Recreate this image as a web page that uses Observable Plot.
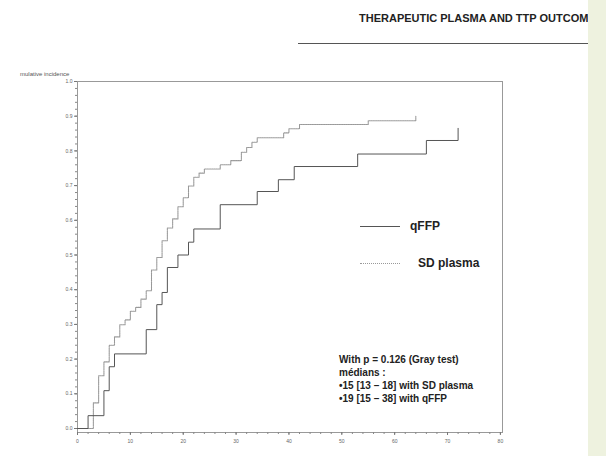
<!DOCTYPE html>
<html><head><meta charset="utf-8">
<script src="https://cdn.jsdelivr.net/npm/d3@7"></script>
<script src="https://cdn.jsdelivr.net/npm/@observablehq/plot@0.6"></script>
<style>
html,body{margin:0;padding:0;background:#fff;}
#wrap{position:relative;width:606px;height:456px;overflow:hidden;font-family:"Liberation Sans",Arial,sans-serif;background:#fff;}
#chart{position:absolute;left:0;top:0;}
.abs{position:absolute;white-space:nowrap;}
#header{left:359px;top:12px;font-size:11px;font-weight:bold;color:#222;}
#hline{left:298px;top:42.5px;width:292px;height:0;border-top:1.5px solid #555;}
#ylab{left:20px;top:71px;font-size:6px;color:#555;}
.leg{font-size:12px;font-weight:bold;color:#222;}
.legline{width:40px;height:0;}
#ann{left:339px;top:353px;font-size:10px;font-weight:bold;color:#222;line-height:13px;}
#strip{left:588px;top:0;width:18px;height:456px;background:#eef2df;}
</style></head><body>
<div id="wrap">
  <div id="chart"></div>
  <div id="header" class="abs"></div>
  <div id="hline" class="abs"></div>
  <div id="ylab" class="abs"></div>
  <div id="leg1line" class="abs legline" style="left:360px;top:225.5px;border-top:1px solid #555;"></div>
  <div id="leg1" class="abs leg" style="left:410px;top:219px;"></div>
  <div id="leg2line" class="abs legline" style="left:360px;top:262.5px;border-top:1px dotted #999;"></div>
  <div id="leg2" class="abs leg" style="left:418px;top:256px;"></div>
  <div id="ann" class="abs"></div>
  <div id="strip" class="abs"></div>
</div>
<script>
// ---- data ----
const seriesNames = ["qFFP", "SD plasma"];
const qffpTime = [0, 2, 5, 6, 7, 13, 15, 16, 17, 19, 21, 22, 27, 34, 38, 41, 53, 66, 72];
const qffpInc  = [0, 0.037, 0.109, 0.178, 0.215, 0.285, 0.357, 0.392, 0.464, 0.50, 0.537, 0.575, 0.645, 0.683, 0.717, 0.755, 0.791, 0.83, 0.865];
const sdTime = [0, 3, 4, 5, 6, 7, 8, 9, 10, 11, 12, 13, 14, 15, 16, 17, 18, 19, 20, 21, 22, 23, 24, 27, 29, 31, 32, 33, 34, 39, 40, 42, 55, 64];
const sdInc  = [0, 0.074, 0.152, 0.192, 0.24, 0.264, 0.299, 0.313, 0.338, 0.349, 0.373, 0.397, 0.457, 0.493, 0.541, 0.578, 0.604, 0.639, 0.665, 0.699, 0.724, 0.736, 0.748, 0.76, 0.772, 0.796, 0.81, 0.825, 0.838, 0.852, 0.864, 0.876, 0.887, 0.90];
const xTicks = [0, 10, 20, 30, 40, 50, 60, 70, 80];
const xMinorTicks = [0, 2, 4, 6, 8, 10, 12, 14, 16, 18, 20, 22, 24, 26, 28, 30, 32, 34, 36, 38, 40, 42, 44, 46, 48, 50, 52, 54, 56, 58, 60, 62, 64, 66, 68, 70, 72, 74, 76, 78, 80];
const yTicks = [0, 0.1, 0.2, 0.3, 0.4, 0.5, 0.6, 0.7, 0.8, 0.9, 1.0];
const yMinorTicks = d3.range(0, 51).map(i => +(i * 0.02).toFixed(2));
const headerText = "THERAPEUTIC PLASMA AND TTP OUTCOME";
const yLabel = "mulative incidence";
const annLines = ["With p = 0.126 (Gray test)", "médians :", "•15 [13 – 18] with SD plasma", "•19 [15 – 38] with qFFP"];

// ---- table ----
const rows = [];
qffpTime.forEach((t, i) => rows.push({series: seriesNames[0], t, v: qffpInc[i]}));
sdTime.forEach((t, i) => rows.push({series: seriesNames[1], t, v: sdInc[i]}));

const chart = Plot.plot({
  width: 606,
  height: 456,
  marginLeft: 77,
  marginRight: 104,
  marginTop: 81,
  marginBottom: 24,
  style: {fontFamily: "'Liberation Sans', Arial, sans-serif", background: "transparent", overflow: "visible"},
  x: {domain: [0, 80.4], label: null},
  y: {domain: [-0.0115, 1], label: null},
  marks: [
    Plot.frame({stroke: "#999", strokeWidth: 1}),
    Plot.axisX({ticks: xMinorTicks, tickSize: 2, text: null, stroke: "#888", label: null}),
    Plot.axisX({ticks: xTicks, tickSize: 3, tickPadding: 4, fontSize: 5, fill: "#666", stroke: "#777", label: null, tickFormat: d3.format("d")}),
    Plot.axisY({ticks: yMinorTicks, tickSize: 2, text: null, stroke: "#888", label: null}),
    Plot.axisY({ticks: yTicks, tickSize: 3, tickPadding: 2, fontSize: 5, fill: "#666", stroke: "#777", label: null, tickFormat: d3.format(".1f")}),
    Plot.line(rows.filter(d => d.series === seriesNames[1]), {x: "t", y: "v", curve: "step-after", stroke: "#999", strokeWidth: 1.1, strokeDasharray: "1,0.8"}),
    Plot.line(rows.filter(d => d.series === seriesNames[0]), {x: "t", y: "v", curve: "step-after", stroke: "#555", strokeWidth: 1})
  ]
});
document.getElementById("chart").appendChild(chart);
document.getElementById("header").textContent = headerText;
document.getElementById("ylab").textContent = yLabel;
document.getElementById("leg1").textContent = seriesNames[0];
document.getElementById("leg2").textContent = seriesNames[1];
document.getElementById("ann").innerHTML = annLines.map(s => s.replace(/&/g, "&amp;").replace(/</g, "&lt;")).join("<br>");
</script>
</body></html>
